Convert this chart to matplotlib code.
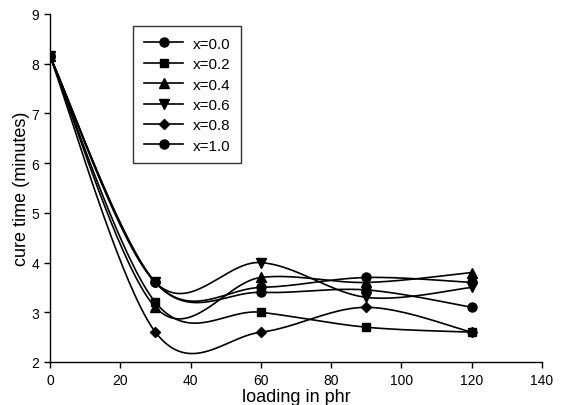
import numpy as np
import matplotlib
matplotlib.use("Agg")
import matplotlib.pyplot as plt

plt.rcParams['font.family'] = ['Liberation Sans', 'DejaVu Sans']

loading = [0, 30, 60, 90, 120]
labels = ['x=0.0', 'x=0.2', 'x=0.4', 'x=0.6', 'x=0.8', 'x=1.0']
markers = ['o', 's', '^', 'v', 'D', 'o']
x00 = [8.15, 3.6, 3.5, 3.7, 3.6]
x02 = [8.15, 3.2, 3.0, 2.7, 2.6]
x04 = [8.15, 3.1, 3.7, 3.6, 3.8]
x06 = [8.15, 3.6, 4.0, 3.3, 3.5]
x08 = [8.15, 2.6, 2.6, 3.1, 2.6]
x10 = [8.15, 3.6, 3.4, 3.45, 3.1]
series = [x00, x02, x04, x06, x08, x10]
msizes = {'o': 6.5, 's': 5.5, '^': 6.5, 'v': 6.5, 'D': 5.5}


def smooth(xs, ys, n=40):
    xs = np.asarray(xs, float)
    ys = np.asarray(ys, float)
    px = np.concatenate([[xs[0]], xs, [xs[-1]]])
    py = np.concatenate([[ys[0]], ys, [ys[-1]]])
    outx, outy = [], []
    t = np.linspace(0, 1, n)
    for i in range(1, len(px) - 2):
        p0 = np.array([px[i], py[i]])
        p3 = np.array([px[i + 1], py[i + 1]])
        c1 = p0 + (np.array([px[i + 1], py[i + 1]]) - np.array([px[i - 1], py[i - 1]])) / 6.0
        c2 = p3 - (np.array([px[i + 2], py[i + 2]]) - np.array([px[i], py[i]])) / 6.0
        b = ((1 - t) ** 3)[:, None] * p0 + (3 * (1 - t) ** 2 * t)[:, None] * c1 \
            + (3 * (1 - t) * t ** 2)[:, None] * c2 + (t ** 3)[:, None] * p3
        outx.extend(b[:, 0])
        outy.extend(b[:, 1])
    return outx, outy


fig = plt.figure(figsize=(5.69, 4.06), dpi=100)
ax = fig.add_axes([50 / 569, 1 - 363 / 406, 492 / 569, 348 / 406])

for ys, m, lab in zip(series, markers, labels):
    sx, sy = smooth(loading, ys)
    ax.plot(sx, sy, color='black', lw=1.2, zorder=2)
    ax.plot(loading, ys, linestyle='none', marker=m, color='black',
            markersize=msizes[m], zorder=3)
    ax.plot([], [], color='black', lw=1.2, marker=m,
            markersize=msizes[m], label=lab)

ax.set_xlim(0, 140)
ax.set_ylim(2, 9)
ax.set_xticks(range(0, 141, 20))
ax.set_yticks(range(2, 10))
for s in ['top', 'right']:
    ax.spines[s].set_visible(False)
for s in ['left', 'bottom']:
    ax.spines[s].set_linewidth(1.0)
ax.tick_params(direction='out', length=4, width=1, labelsize=10, colors='black', pad=4)
ax.set_xlabel('loading in phr', fontsize=13, labelpad=1)
ax.set_ylabel('cure time (minutes)', fontsize=13, labelpad=1)

leg = ax.legend(loc='upper left', bbox_to_anchor=(83 / 492, 1 - 12 / 348),
                frameon=True, fancybox=False, edgecolor='black', fontsize=11,
                handlelength=2.6, borderpad=0.7, labelspacing=0.42,
                handletextpad=0.6, borderaxespad=0)
leg.get_frame().set_linewidth(1.0)

fig.savefig('out.png', dpi=100)
